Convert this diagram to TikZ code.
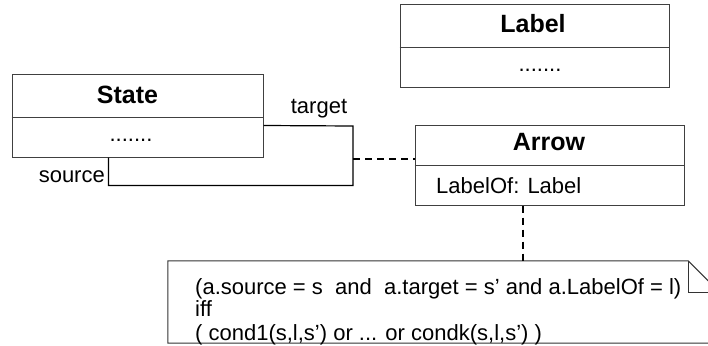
\documentclass[tikz,border=0pt]{standalone}
\usepackage{fontspec}
\setmainfont{Liberation Sans}
\usetikzlibrary{calc}
\begin{document}
\begin{tikzpicture}[x=1pt,y=-1pt,
  classbox/.style={draw=black!75, line width=1pt, inner sep=0pt},
  divider/.style={draw=black!75, line width=1pt},
  title/.style={font=\fontsize{25}{28}\selectfont\bfseries, inner sep=0pt},
  body/.style={font=\fontsize{22}{24}\selectfont, inner sep=0pt},
  assoc/.style={line width=1.2pt},
  dashlink/.style={line width=1.2pt, dash pattern=on 7pt off 5pt},
  notebox/.style={draw=black!80, line width=1pt}]
\useasboundingbox (0,0) rectangle (708,345);
\clip (0,0) rectangle (708,345);

% class Label
\node[classbox, minimum width=269pt, minimum height=82pt] (labelcls) at (534.5,46) {};
\draw[divider] ($(labelcls.north west)+(0,43)$) -- ($(labelcls.north east)+(0,43)$);
\node[title, anchor=base] (labeltitle) at (533,33) {Label};
\node[body, anchor=base] (labeldots) at (540,71) {.......};

% class State
\node[classbox, minimum width=251pt, minimum height=83pt] (state) at (137.5,115.5) {};
\draw[divider] ($(state.north west)+(0,44)$) -- ($(state.north east)+(0,44)$);
\node[title, anchor=base] (statetitle) at (127.5,103) {State};
\node[body, anchor=base] (statedots) at (131,141) {.......};

% class Arrow
\node[classbox, minimum width=269pt, minimum height=80pt] (arrowcls) at (549.5,165) {};
\draw[divider] ($(arrowcls.north west)+(0,41)$) -- ($(arrowcls.north east)+(0,41)$);
\node[title, anchor=base] (arrowtitle) at (549,150) {Arrow};
\node[body, anchor=base west] (arrowattr) at (436,193) {LabelOf: Label};

% source / target association of State
\coordinate (srcend) at ($(state.south west)+(97,0)$);
\coordinate (tgtend) at ($(state.north east)+(0,52)$);
\coordinate (bend) at (353,126);
\draw[assoc] (srcend) -- ++(0,28) -| (bend) -- (tgtend);
\node[body, anchor=base] (tgtlabel) at (319,113) {target};
\node[body, anchor=base east] (srclabel) at (105,182) {source};

% association class link
\coordinate (linkmid) at (353,159);
\draw[dashlink] (linkmid) -- (linkmid -| arrowcls.west);

% constraint note
\node[minimum width=553pt, minimum height=82pt, inner sep=0pt] (note) at (444.5,302) {};
\draw[notebox] (note.south west) -- (note.north west) -- ($(note.north east)+(-33,0)$)
  -- ($(note.north east)+(0,33)$) -- (note.south east) -- cycle;
\draw[notebox] ($(note.north east)+(-33,0)$) -- ($(note.north east)+(-33,32)$) -- ($(note.north east)+(0,32)$);
\node[body, anchor=base west] (cond1) at (195,294) {(a.source = s\ \ and\ \ a.target = s’ and a.LabelOf = l)};
\node[body, anchor=base west] (cond2) at (195,316) {iff};
\node[body, anchor=base west] (cond3) at (195,340) {( cond1(s,l,s’) or ... or condk(s,l,s’) )};

\coordinate (notelink) at ($(arrowcls.south)+(-26.5,0)$);
\draw[dashlink] (notelink) -- (notelink |- note.north);
\end{tikzpicture}
\end{document}
